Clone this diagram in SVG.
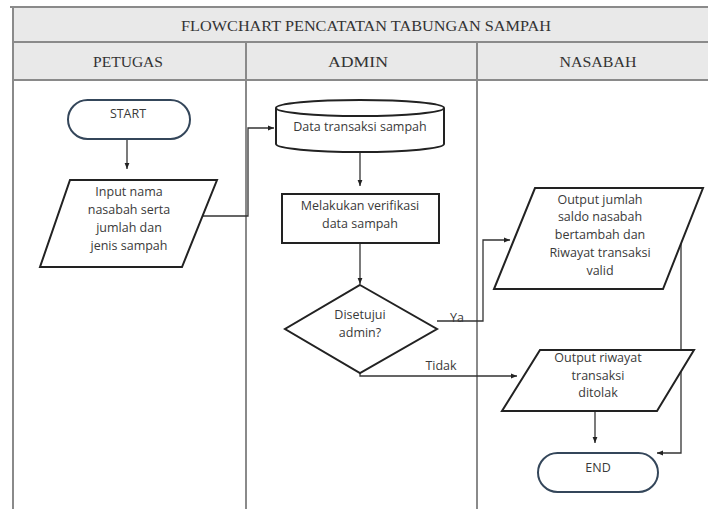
<svg xmlns="http://www.w3.org/2000/svg" width="708" height="509" viewBox="0 0 708 509">
<defs>
<marker id="ah" viewBox="0 0 10 10" refX="10" refY="5" markerWidth="6" markerHeight="6" orient="auto" markerUnits="userSpaceOnUse"><path d="M0,1 L10,5 L0,9 z" fill="#222"/></marker>
<style>
.hd{fill:#e9e9e9;stroke:none}
.ln{stroke:#8a8a8a;stroke-width:2;fill:none}
.tt{font-family:"Liberation Serif",serif;font-size:15px;fill:#333;text-anchor:middle}
.sh{fill:#fff;stroke:#222;stroke-width:2}
.term{fill:#fff;stroke:#34465a;stroke-width:2}
.tx{font-family:"Open Sans","Liberation Sans",sans-serif;font-size:12.5px;fill:#3a3a3a;text-anchor:middle}
.cn{fill:none;stroke:#333;stroke-width:1.3}
</style>
</defs>
<rect width="708" height="509" fill="#fff"/>
<g id="frame">
<rect class="hd" x="13" y="7" width="695" height="73"/>
<line class="ln" x1="10" y1="7" x2="708" y2="7"/>
<line class="ln" x1="13" y1="42" x2="708" y2="42"/>
<line class="ln" x1="13" y1="80" x2="708" y2="80"/>
<line class="ln" x1="13" y1="7" x2="13" y2="509"/>
<line class="ln" x1="246" y1="42" x2="246" y2="509"/>
<line class="ln" x1="477" y1="42" x2="477" y2="509"/>
<text class="tt" x="366" y="31" textLength="370" lengthAdjust="spacingAndGlyphs">FLOWCHART PENCATATAN TABUNGAN SAMPAH</text>
<text class="tt" x="128" y="67" textLength="70" lengthAdjust="spacingAndGlyphs">PETUGAS</text>
<text class="tt" x="358" y="67" textLength="60" lengthAdjust="spacingAndGlyphs">ADMIN</text>
<text class="tt" x="598" y="67" textLength="77" lengthAdjust="spacingAndGlyphs">NASABAH</text>
</g>
<g id="connectors">
<line class="cn" x1="127" y1="139" x2="127" y2="169" marker-end="url(#ah)"/>
<polyline class="cn" points="200,216 248,216 248,128 274,128" marker-end="url(#ah)"/>
<line class="cn" x1="360" y1="152" x2="360" y2="186" marker-end="url(#ah)"/>
<line class="cn" x1="360" y1="243" x2="360" y2="284" marker-end="url(#ah)"/>
<polyline class="cn" points="437,321 483,321 483,240 510,240" marker-end="url(#ah)"/>
<polyline class="cn" points="360,373 360,376 517,376" marker-end="url(#ah)"/>
<polyline class="cn" points="667,236 681,236 681,453 657,453" marker-end="url(#ah)"/>
<line class="cn" x1="595" y1="411" x2="595" y2="443" marker-end="url(#ah)"/>
<text class="tx" x="457" y="322">Ya</text>
<text class="tx" x="441" y="370">Tidak</text>
</g>
<g id="start">
<rect class="term" x="68" y="100" width="122" height="39" rx="19.5"/>
<text class="tx" x="128" y="118">START</text>
</g>
<g id="input">
<polygon class="sh" points="70,180 217,180 182,267 40,267"/>
<text class="tx" x="129" y="196">Input nama</text>
<text class="tx" x="129" y="214">nasabah serta</text>
<text class="tx" x="129" y="232">jumlah dan</text>
<text class="tx" x="129" y="250">jenis sampah</text>
</g>
<g id="data">
<path class="sh" d="M276,108 A84,8 0 0 1 444,108 L444,144 A84,8 0 0 1 276,144 Z"/>
<path class="sh" d="M276,108 A84,8 0 0 0 444,108" fill="none"/>
<text class="tx" x="360" y="131">Data transaksi sampah</text>
</g>
<g id="verif">
<rect class="sh" x="282" y="194" width="157" height="49"/>
<text class="tx" x="360" y="210">Melakukan verifikasi</text>
<text class="tx" x="360" y="228">data sampah</text>
</g>
<g id="decision">
<polygon class="sh" points="360,285 437,329 360,373 285,329" stroke-width="1.8"/>
<text class="tx" x="360" y="319">Disetujui</text>
<text class="tx" x="360" y="337">admin?</text>
</g>
<g id="out1">
<polygon class="sh" points="535,188 703,188 663,289 494,289"/>
<text class="tx" x="600" y="204">Output jumlah</text>
<text class="tx" x="600" y="221">saldo nasabah</text>
<text class="tx" x="600" y="239">bertambah dan</text>
<text class="tx" x="600" y="257">Riwayat transaksi</text>
<text class="tx" x="600" y="275">valid</text>
</g>
<g id="out2">
<polygon class="sh" points="540,350 694,350 657,411 502,411"/>
<text class="tx" x="598" y="362">Output riwayat</text>
<text class="tx" x="598" y="380">transaksi</text>
<text class="tx" x="598" y="397">ditolak</text>
</g>
<g id="end">
<rect class="term" x="538" y="453" width="120" height="39" rx="19.5"/>
<text class="tx" x="598" y="472">END</text>
</g>
</svg>
